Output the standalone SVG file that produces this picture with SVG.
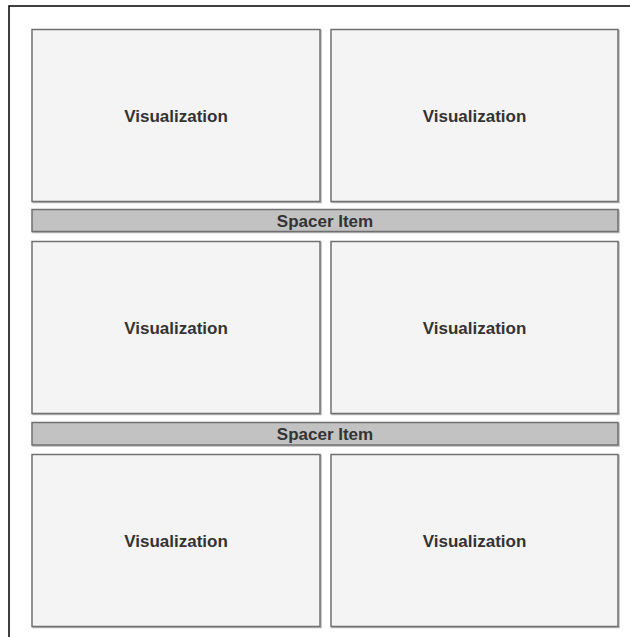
<svg xmlns="http://www.w3.org/2000/svg" width="630" height="637" viewBox="0 0 630 637">
  <style>
    .frame { fill: #ffffff; stroke: #000000; stroke-width: 1.5; }
    .shadow { fill: none; stroke: #b8b8b8; stroke-width: 1.5; }
    .viz { fill: #f4f4f4; stroke: #707070; stroke-width: 1.5; }
    .spacer { fill: #c2c2c2; stroke: #707070; stroke-width: 1.5; }
    .label { font-family: "Liberation Sans", Arial, Helvetica, sans-serif; font-weight: bold; font-size: 17px; fill: #333333; text-anchor: middle; dominant-baseline: central; }
  </style>

  <rect width="630" height="637" fill="#ffffff"/>
  <!-- outer container, open to the right and bottom -->
  <rect class="frame" x="9" y="6" width="700" height="700"/>

  <!-- row 1 -->
  <g id="viz-1-1">
    <rect class="shadow" x="33" y="30.5" width="288" height="172"/>
    <rect class="viz" x="32" y="29.5" width="288" height="172"/>
    <text class="label" x="176" y="116">Visualization</text>
  </g>
  <g id="viz-1-2">
    <rect class="shadow" x="332" y="30.5" width="287" height="172"/>
    <rect class="viz" x="331" y="29.5" width="287" height="172"/>
    <text class="label" x="474.5" y="116">Visualization</text>
  </g>

  <g id="spacer-1">
    <rect class="shadow" x="33" y="210.5" width="586" height="22"/>
    <rect class="spacer" x="32" y="209.5" width="586" height="22"/>
    <text class="label" x="325" y="221">Spacer Item</text>
  </g>

  <!-- row 2 -->
  <g id="viz-2-1">
    <rect class="shadow" x="33" y="242.5" width="288" height="172"/>
    <rect class="viz" x="32" y="241.5" width="288" height="172"/>
    <text class="label" x="176" y="328">Visualization</text>
  </g>
  <g id="viz-2-2">
    <rect class="shadow" x="332" y="242.5" width="287" height="172"/>
    <rect class="viz" x="331" y="241.5" width="287" height="172"/>
    <text class="label" x="474.5" y="328">Visualization</text>
  </g>

  <g id="spacer-2">
    <rect class="shadow" x="33" y="423.5" width="586" height="22.5"/>
    <rect class="spacer" x="32" y="422.5" width="586" height="22.5"/>
    <text class="label" x="325" y="434">Spacer Item</text>
  </g>

  <!-- row 3 -->
  <g id="viz-3-1">
    <rect class="shadow" x="33" y="455.5" width="288" height="172"/>
    <rect class="viz" x="32" y="454.5" width="288" height="172"/>
    <text class="label" x="176" y="541">Visualization</text>
  </g>
  <g id="viz-3-2">
    <rect class="shadow" x="332" y="455.5" width="287" height="172"/>
    <rect class="viz" x="331" y="454.5" width="287" height="172"/>
    <text class="label" x="474.5" y="541">Visualization</text>
  </g>

  <g id="connectors"/>
</svg>
